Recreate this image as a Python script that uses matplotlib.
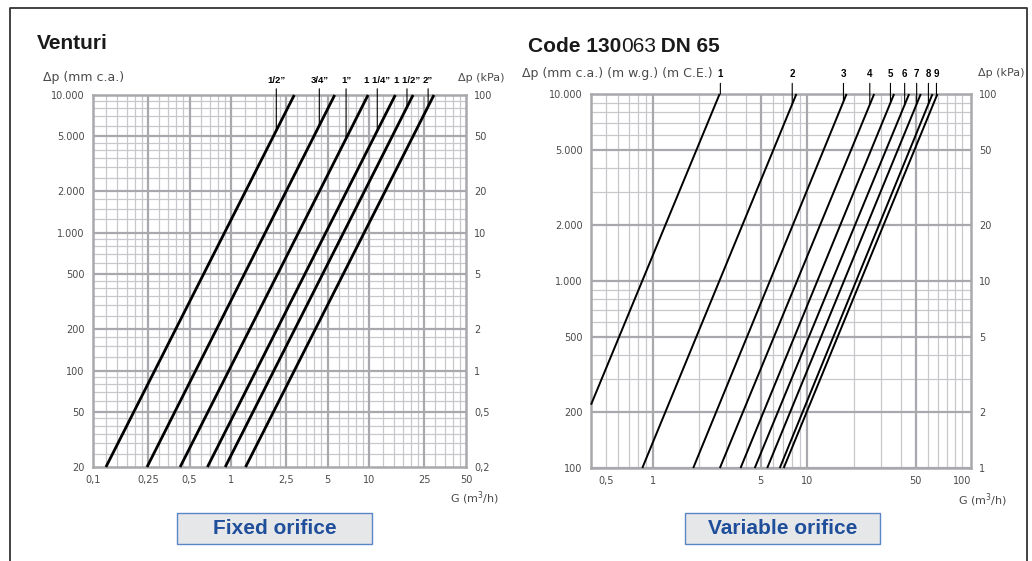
import numpy as np
import matplotlib
matplotlib.use("Agg")
import matplotlib.pyplot as plt
from matplotlib.lines import Line2D
from matplotlib.patches import Rectangle
from matplotlib.ticker import NullLocator, NullFormatter

W, H = 1032, 561

# ---- left chart: Venturi (fixed orifice) ----
left_sizes = ["1/2\u201d", "3/4\u201d", "1\u201d", "1 1/4\u201d", "1 1/2\u201d", "2\u201d"]
left_g_start = [0.124, 0.246, 0.427, 0.673, 0.905, 1.27]
left_dp_start = [20, 20, 20, 20, 20, 20]
left_g_end = [2.86, 5.61, 9.78, 15.4, 20.7, 29.3]
left_dp_end = [10000, 10000, 10000, 10000, 10000, 10000]
left_label_g = [2.12, 4.34, 6.78, 11.4, 18.7, 26.6]

left_xticks = [0.1, 0.25, 0.5, 1, 2.5, 5, 10, 25, 50]
left_xlabels = ["0,1", "0,25", "0,5", "1", "2,5", "5", "10", "25", "50"]
left_yticks = [20, 50, 100, 200, 500, 1000, 2000, 5000, 10000]
left_ylabels = ["20", "50", "100", "200", "500", "1.000", "2.000", "5.000", "10.000"]
left_kpa_labels = ["0,2", "0,5", "1", "2", "5", "10", "20", "50", "100"]

# ---- right chart: code 130063 DN 65 (variable orifice) ----
right_positions = ["1", "2", "3", "4", "5", "6", "7", "8", "9"]
right_g_start = [0.40, 0.858, 1.83, 2.72, 3.70, 4.57, 5.50, 6.63, 7.03]
right_dp_start = [218, 100, 100, 100, 100, 100, 100, 100, 100]
right_g_end = [2.71, 8.49, 17.9, 27.0, 36.3, 45.4, 54.0, 64.3, 69.2]
right_dp_end = [10000, 10000, 10000, 10000, 10000, 10000, 10000, 10000, 10000]
right_label_g = [2.74, 7.98, 17.1, 25.3, 34.4, 42.5, 50.8, 60.5, 68.2]

right_xticks = [0.5, 1, 5, 10, 50, 100]
right_xlabels = ["0,5", "1", "5", "10", "50", "100"]
right_yticks = [100, 200, 500, 1000, 2000, 5000, 10000]
right_ylabels = ["100", "200", "500", "1.000", "2.000", "5.000", "10.000"]
right_kpa_labels = ["1", "2", "5", "10", "20", "50", "100"]

GRID_MAJ = "#a9a9ad"
GRID_MIN = "#c8c8cc"
TXT = "#4a4a4a"
BLUE = "#1f4e9b"


def decades(mantissas, lo, hi):
    out = []
    for e in range(-2, 5):
        for m in mantissas:
            v = m * 10.0 ** e
            if lo * 1.0001 < v < hi * 0.9999:
                out.append(v)
    return out


def setup(ax, xlim, ylim, xmaj, xmin, ymaj, ymin, xt, xl, yt, yl, kpa):
    ax.set_xscale("log")
    ax.set_yscale("log")
    ax.set_xlim(xlim)
    ax.set_ylim(ylim)
    for v in xmin:
        ax.axvline(v, color=GRID_MIN, lw=0.9, zorder=1)
    for v in ymin:
        ax.axhline(v, color=GRID_MIN, lw=0.9, zorder=1)
    for v in xmaj:
        ax.axvline(v, color=GRID_MAJ, lw=1.6, zorder=1.5)
    for v in ymaj:
        ax.axhline(v, color=GRID_MAJ, lw=1.6, zorder=1.5)
    for s in ax.spines.values():
        s.set_color(GRID_MAJ)
        s.set_linewidth(1.8)
    ax.set_xticks(xt)
    ax.set_xticklabels(xl)
    ax.set_yticks(yt)
    ax.set_yticklabels(yl)
    ax.xaxis.set_minor_locator(NullLocator())
    ax.yaxis.set_minor_locator(NullLocator())
    ax.xaxis.set_minor_formatter(NullFormatter())
    ax.yaxis.set_minor_formatter(NullFormatter())
    ax.tick_params(length=0, labelsize=7, labelcolor=TXT, pad=6)
    ax2 = ax.twinx()
    ax2.set_yscale("log")
    ax2.set_ylim(ylim[0] / 100, ylim[1] / 100)
    ax2.set_yticks([v / 100 for v in yt])
    ax2.set_yticklabels(kpa)
    ax2.yaxis.set_minor_locator(NullLocator())
    ax2.yaxis.set_minor_formatter(NullFormatter())
    ax2.tick_params(length=0, labelsize=7, labelcolor=TXT, pad=6)
    for s in ax2.spines.values():
        s.set_visible(False)


def draw_lines(ax, g0, d0, g1, d1, lab_g, names, lw, ytxt, fs):
    for i in range(len(names)):
        ax.plot([g0[i], g1[i]], [d0[i], d1[i]], color="black", lw=lw,
                solid_capstyle="butt", zorder=3, clip_on=False)
        # point on the line below the label
        ye = 10 ** np.interp(np.log10(lab_g[i]),
                             [np.log10(g0[i]), np.log10(g1[i])],
                             [np.log10(d0[i]), np.log10(d1[i])])
        ax.annotate(names[i], xy=(lab_g[i], ye), xycoords="data",
                    xytext=(lab_g[i], ytxt), textcoords=ax.get_xaxis_transform(),
                    ha="center", va="center", fontsize=fs, fontweight="bold",
                    family=["Liberation Sans Narrow", "Liberation Sans", "DejaVu Sans"],
                    arrowprops=dict(arrowstyle="-", lw=0.8, color="black",
                                    shrinkA=1, shrinkB=0),
                    zorder=4, annotation_clip=False)


fig = plt.figure(figsize=(W / 100, H / 100), dpi=100)
plt.rcParams["font.family"] = ["DejaVu Sans"]

# left axes
axl = fig.add_axes([93 / W, 1 - 467 / H, 373 / W, 372 / H])
setup(axl, (0.1, 50), (20, 10000),
      decades([1, 2.5, 5], 0.1, 50), decades([1.25, 1.5, 1.75, 2, 2.25, 3, 3.5, 4, 4.5, 6, 7, 8, 9], 0.1, 50),
      decades([1, 2, 5], 20, 10000), decades([1.25, 1.5, 1.75, 2.5, 3, 3.5, 4, 4.5, 6, 7, 8, 9], 20, 10000),
      left_xticks, left_xlabels, left_yticks, left_ylabels, left_kpa_labels)
draw_lines(axl, left_g_start, left_dp_start, left_g_end, left_dp_end,
           left_label_g, left_sizes, 2.0, 1.040, 6.8)

# right axes
axr = fig.add_axes([591 / W, 1 - 468 / H, 380 / W, 374 / H])
setup(axr, (0.4, 114), (100, 10000),
      [1, 5, 10, 50], [0.5, 0.6, 0.7, 0.8, 0.9, 2, 3, 4, 6, 7, 8, 9, 20, 30, 40, 60, 70, 80, 90, 100],
      [100, 200, 500, 1000, 2000, 5000, 10000], decades([3, 4, 6, 7, 8, 9], 100, 10000),
      right_xticks, right_xlabels, right_yticks, right_ylabels, right_kpa_labels)
draw_lines(axr, right_g_start, right_dp_start, right_g_end, right_dp_end,
           right_label_g, right_positions, 1.4, 1.053, 7)

# axis titles
lab = dict(fontsize=8, color=TXT)
fig.text(43 / W, 1 - 78 / H, "\u0394p (mm c.a.)", ha="left", va="center", fontsize=9, color=TXT)
fig.text(505 / W, 1 - 78 / H, "\u0394p (kPa)", ha="right", va="center", **lab)
fig.text(499 / W, 1 - 498 / H, "G (m$^3$/h)", ha="right", va="center", **lab)
fig.text(522 / W, 1 - 73 / H, "\u0394p (mm c.a.) (m w.g.) (m C.E.)", ha="left", va="center",
         fontsize=9, color=TXT)
fig.text(1025 / W, 1 - 73 / H, "\u0394p (kPa)", ha="right", va="center", **lab)
fig.text(1007 / W, 1 - 500 / H, "G (m$^3$/h)", ha="right", va="center", **lab)

# titles
tfont = dict(fontsize=15, color="#1a1a1a", family=["Liberation Sans", "DejaVu Sans"])
fig.text(37 / W, 1 - 49 / H, "Venturi", fontweight="bold", va="baseline", **tfont)
t1 = fig.text(528 / W, 1 - 52 / H, "Code 130", fontweight="bold", va="baseline", **tfont)
t2 = fig.text(0, 0, "063", fontweight="normal", va="baseline", **tfont)
t3 = fig.text(0, 0, " DN 65", fontweight="bold", va="baseline", **tfont)
fig.canvas.draw()
r = fig.canvas.get_renderer()
bb = t1.get_window_extent(r)
t2.set_position(((bb.x1 - 0.5) / W, 1 - 52 / H))
bb = t2.get_window_extent(r)
t3.set_position(((bb.x1 - 1) / W, 1 - 52 / H))

# boxed captions
for x0, x1, txt in [(177, 372, "Fixed orifice"), (685, 880, "Variable orifice")]:
    fig.add_artist(Rectangle((x0 / W, 1 - 544 / H), (x1 - x0) / W, 31 / H,
                             transform=fig.transFigure, facecolor="#e6e7e9",
                             edgecolor="#5a86c6", lw=1.0))
    fig.text((x0 + x1) / 2 / W, 1 - 529 / H, txt, ha="center", va="center",
             fontsize=15, fontweight="bold", color=BLUE,
             family=["Liberation Sans", "DejaVu Sans"])

# outer frame
fig.add_artist(Line2D([10 / W, 10 / W, 1027 / W, 1027 / W], [0, 1 - 8 / H, 1 - 8 / H, 0],
                      transform=fig.transFigure, color="#333333", lw=1.3))

fig.savefig("out.png", dpi=100)
